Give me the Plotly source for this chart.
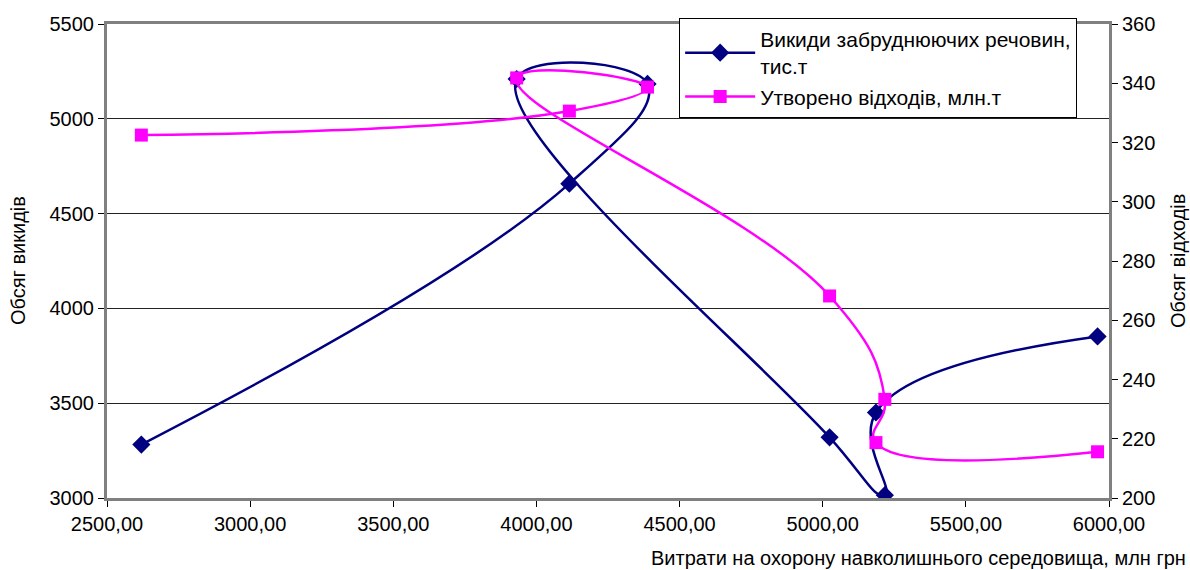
import plotly.graph_objects as go

# Data
spend = [2620, 4115, 4388, 3931, 5024, 5217, 5186, 5960]           # млн грн
emissions = [3282, 4658, 5184, 5210, 3320, 3015, 3451, 3852]       # тис.т (left axis)
waste = [322.5, 330.6, 338.7, 341.8, 268.2, 233.3, 218.7, 215.6]   # млн.т (right axis)

name1 = "Викиди забруднюючих речовин,<br>тис.т"
name2 = "Утворено відходів, млн.т"
x_title = "Витрати на охорону навколишнього середовища, млн грн"
y1_title = "Обсяг викидів"
y2_title = "Обсяг відходів"

FONT = "Liberation Sans, Arial, sans-serif"
FS = 20

fig = go.Figure()
fig.add_trace(go.Scatter(
    x=spend, y=emissions, name=name1, mode="lines+markers",
    line=dict(color="#000080", width=2.5, shape="spline", smoothing=1.3),
    marker=dict(symbol="diamond", size=14, color="#000080"),
))
fig.add_trace(go.Scatter(
    x=spend, y=waste, name=name2, mode="lines+markers", yaxis="y2",
    line=dict(color="#FF00FF", width=2.5, shape="spline", smoothing=1.3),
    marker=dict(symbol="square", size=13, color="#FF00FF"),
))

axis_line = dict(showline=True, linecolor="#808080", linewidth=3)

fig.update_layout(
    width=1190, height=570,
    margin=dict(l=107, r=81, t=24, b=72, autoexpand=False),
    paper_bgcolor="white", plot_bgcolor="white",
    font=dict(family=FONT, size=FS, color="black"),
    separators=", ",
    showlegend=True,
    legend=dict(
        x=0.571, y=1.013, xanchor="left", yanchor="top",
        bordercolor="black", borderwidth=1, bgcolor="white",
        font=dict(size=21), tracegroupgap=0, itemwidth=70,
    ),
    xaxis=dict(
        range=[2500, 6000], dtick=500, tick0=2500, tickformat=".2f",
        ticks="outside", ticklen=6, tickcolor="black",
        showgrid=False, zeroline=False, mirror=True, **axis_line,
    ),
    yaxis=dict(
        range=[3000, 5500], dtick=500, tick0=3000,
        ticks="outside", ticklen=6, tickcolor="black",
        showgrid=True, gridcolor="#222222", gridwidth=1,
        zeroline=False, mirror=True, automargin=False, **axis_line,
    ),
    yaxis2=dict(
        range=[200, 360], dtick=20, tick0=200, overlaying="y", side="right",
        ticks="outside", ticklen=6, tickcolor="black",
        showgrid=False, zeroline=False, automargin=False, **axis_line,
    ),
    yaxis3=dict(
        range=[200, 360], dtick=20, tick0=200, overlaying="y", side="right",
        ticks="inside", ticklen=6, tickcolor="black", showticklabels=False,
        showgrid=False, zeroline=False, showline=False, automargin=False,
    ),
    annotations=[
        dict(text=x_title, xref="paper", yref="paper", x=1, y=0,
             xanchor="right", yanchor="middle", xshift=79, yshift=-60,
             showarrow=False, font=dict(size=FS)),
        dict(text=y1_title, xref="paper", yref="paper", x=0, y=0.5,
             xanchor="center", yanchor="middle", xshift=-89, textangle=-90,
             showarrow=False, font=dict(size=FS)),
        dict(text=y2_title, xref="paper", yref="paper", x=1, y=0.5,
             xanchor="center", yanchor="middle", xshift=69, textangle=-90,
             showarrow=False, font=dict(size=FS)),
    ],
)

fig.write_html(
    "out.html",
    config={"displayModeBar": False},
    post_script="document.body.style.margin='0';document.body.style.overflow='hidden';",
)
